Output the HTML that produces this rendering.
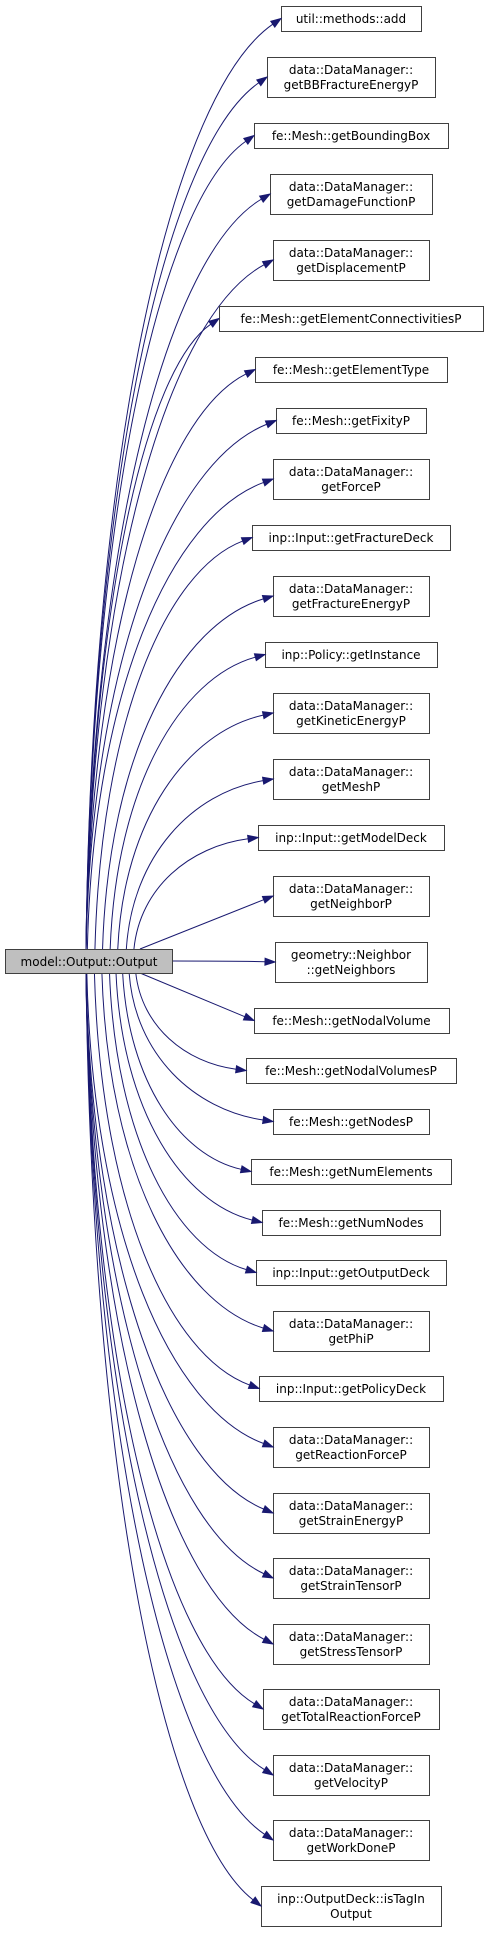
<!DOCTYPE html>
<html><head><meta charset="utf-8"><style>
html,body{margin:0;padding:0;background:#fff;width:488px;height:1933px;overflow:hidden}
svg text{font-family:"DejaVu Sans","Liberation Sans",sans-serif;font-size:12px;fill:#000;text-anchor:middle}
</style></head><body>
<svg id="g" width="488" height="1933" viewBox="0 0 488 1933" xmlns="http://www.w3.org/2000/svg"></svg>
<script>
var N=[
["util::methods::add",6,281,421],
["data::DataManager::|getBBFractureEnergyP",57,267,435],
["fe::Mesh::getBoundingBox",123,254,448],
["data::DataManager::|getDamageFunctionP",174,270,432],
["data::DataManager::|getDisplacementP",240,273,429],
["fe::Mesh::getElementConnectivitiesP",306,219,483],
["fe::Mesh::getElementType",357,255,447],
["fe::Mesh::getFixityP",408,276,426],
["data::DataManager::|getForceP",459,273,429],
["inp::Input::getFractureDeck",525,252,450],
["data::DataManager::|getFractureEnergyP",576,273,429],
["inp::Policy::getInstance",642,265,437],
["data::DataManager::|getKineticEnergyP",693,273,429],
["data::DataManager::|getMeshP",759,273,429],
["inp::Input::getModelDeck",825,258,444],
["data::DataManager::|getNeighborP",876,273,429],
["geometry::Neighbor|::getNeighbors",942,275,427],
["fe::Mesh::getNodalVolume",1008,254,449],
["fe::Mesh::getNodalVolumesP",1058,246,456],
["fe::Mesh::getNodesP",1109,273,429],
["fe::Mesh::getNumElements",1159,251,451],
["fe::Mesh::getNumNodes",1210,262,440],
["inp::Input::getOutputDeck",1260,256,446],
["data::DataManager::|getPhiP",1311,273,429],
["inp::Input::getPolicyDeck",1376,259,443],
["data::DataManager::|getReactionForceP",1427,273,429],
["data::DataManager::|getStrainEnergyP",1493,273,429],
["data::DataManager::|getStrainTensorP",1558,273,429],
["data::DataManager::|getStressTensorP",1624,273,429],
["data::DataManager::|getTotalReactionForceP",1689,263,439],
["data::DataManager::|getVelocityP",1755,273,429],
["data::DataManager::|getWorkDoneP",1820,273,429],
["inp::OutputDeck::isTagIn|Output",1886,261,441]];
var s='';
function esc(t){return t.replace(/&/g,'&amp;').replace(/</g,'&lt;');}
N.forEach(function(n){
 var L=n[0].split('|'),h=L.length>1?40:25,y=n[1],x1=n[2],x2=n[3],cx=(x1+x2)/2,cy=y+h/2;
 s+='<rect x="'+(x1+.5)+'" y="'+(y+.5)+'" width="'+(x2-x1)+'" height="'+h+'" fill="#fff" stroke="#404040" stroke-width="1"/>';
 if(L.length>1){s+='<text x="'+cx+'" y="'+(y+17)+'">'+esc(L[0])+'</text><text x="'+cx+'" y="'+(y+32)+'">'+esc(L[1])+'</text>';}
 else s+='<text x="'+cx+'" y="'+(y+17)+'">'+esc(L[0])+'</text>';
 var ex=x1,ey=cy,sx,sy,p1,p2;
 var dy=cy-961;
 if(Math.abs(dy)<5){sx=172;sy=961;p1=[200,961];p2=[240,961];}
 else{
  sy=dy<0?949:973;
  var ad=Math.abs(dy);
  sx=Math.max(86,150-ad*0.13);
  if(ad<80){sx=140;p1=[sx+(ex-sx)*0.33,sy+(ey-sy)*0.33];p2=[sx+(ex-sx)*0.66,sy+(ey-sy)*0.66];}
  else{
   p1=[sx+6,sy+(ey-sy)*0.55];
   p2=[sx+(ex-sx)*0.45,ey-(ey-sy)*0.08];
  }
 }
 var dx=ex-p2[0],dyy=ey-p2[1],l=Math.sqrt(dx*dx+dyy*dyy);dx/=l;dyy/=l;
 var bx=ex-dx*10,by=ey-dyy*10;
 s+='<path d="M'+sx+','+sy+' C'+p1[0]+','+p1[1]+' '+p2[0]+','+p2[1]+' '+bx+','+by+'" fill="none" stroke="#191970" stroke-width="1"/>';
 var px=-dyy*3.5,py=dx*3.5;
 s+='<polygon points="'+ex+','+ey+' '+(bx+px)+','+(by+py)+' '+(bx-px)+','+(by-py)+'" fill="#191970" stroke="#191970"/>';
});
s+='<rect x="5.5" y="949.5" width="167" height="24" fill="#bfbfbf" stroke="#404040"/><text x="89" y="966">model::Output::Output</text>';
document.getElementById('g').innerHTML=s;
</script>
</body></html>
